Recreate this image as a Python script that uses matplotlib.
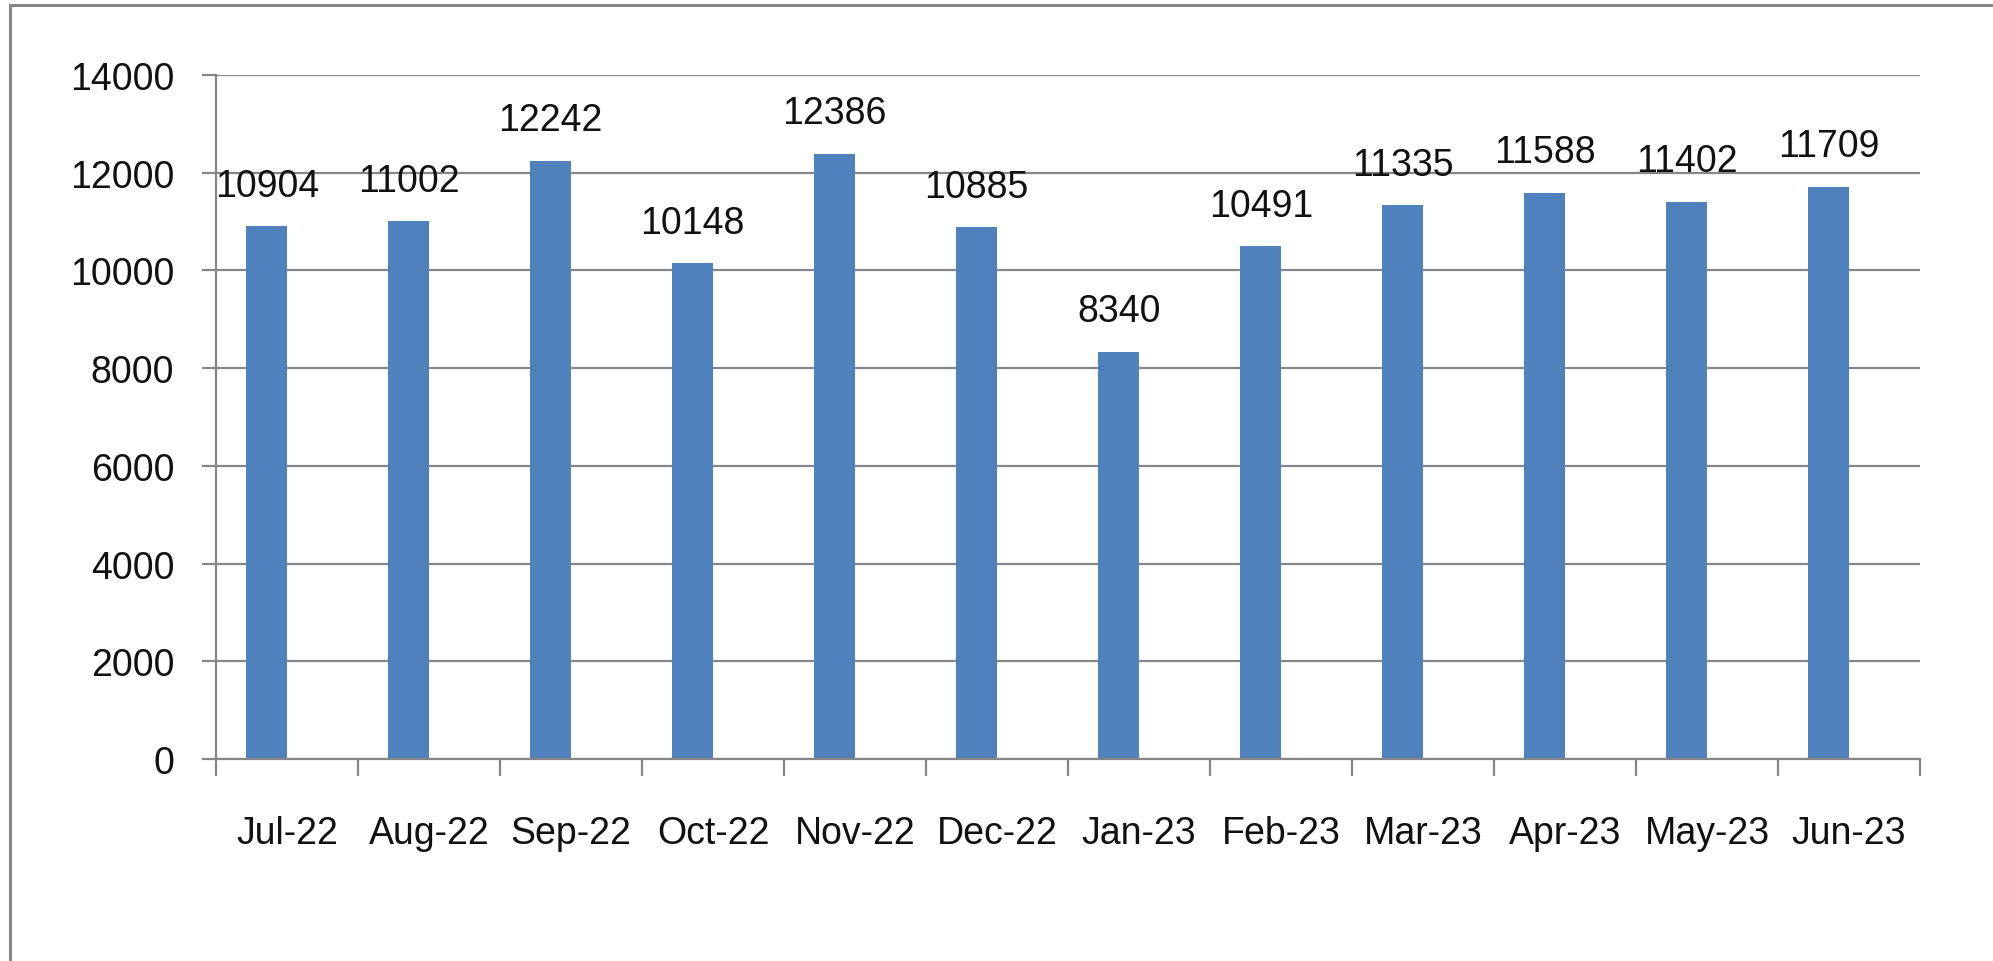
import matplotlib
matplotlib.use("Agg")
import matplotlib.pyplot as plt
from matplotlib.lines import Line2D
import numpy as np

months = ["Jul-22", "Aug-22", "Sep-22", "Oct-22", "Nov-22", "Dec-22",
          "Jan-23", "Feb-23", "Mar-23", "Apr-23", "May-23", "Jun-23"]
counts = [10904, 11002, 12242, 10148, 12386, 10885,
          8340, 10491, 11335, 11588, 11402, 11709]
y_ticks = [0, 2000, 4000, 6000, 8000, 10000, 12000, 14000]

plt.rcParams["font.family"] = ["Liberation Sans", "DejaVu Sans"]

grey = "#868686"
bar_colour = "#4f81bd"

fig = plt.figure(figsize=(19.93, 9.62), dpi=100)
ax = fig.add_axes([0.1084, 0.2100, 0.855, 0.711])

# outer chart frame (only left and top edges are visible)
fig.add_artist(Line2D([10 / 1993, 10 / 1993], [0, 1 - 6 / 962], color=grey, lw=2.2, transform=fig.transFigure))
fig.add_artist(Line2D([10 / 1993, 1], [1 - 6 / 962, 1 - 6 / 962], color=grey, lw=2.2, transform=fig.transFigure))

x = np.arange(len(months))
bar_w = 0.2857
bars = ax.bar(x - bar_w / 2, counts, width=bar_w, color=bar_colour, zorder=3)

for xi, v in zip(x - bar_w / 2, counts):
    ax.annotate(str(v), (xi, v), xytext=(0, 22), textcoords="offset points",
                ha="center", va="baseline", fontsize=27, color="#111111", zorder=4)

ax.set_xlim(-0.5, len(months) - 0.5)
ax.set_ylim(0, 14000)
ax.set_yticks(y_ticks)
ax.set_yticklabels([str(t) for t in y_ticks])
ax.yaxis.grid(True, color=grey, linewidth=1.6, zorder=0)

ax.set_xticks(x)
ax.set_xticklabels(months)
ax.set_xticks(np.arange(-0.5, len(months), 1.0), minor=True)
ax.tick_params(axis="x", which="major", length=0, pad=40, labelsize=27, labelcolor="#111111")
ax.tick_params(axis="x", which="minor", length=12, width=1.6, color=grey, direction="out")
ax.tick_params(axis="y", length=10, width=1.6, color=grey, pad=20, labelsize=27, labelcolor="#111111")

for side in ["top", "right"]:
    ax.spines[side].set_visible(False)
for side in ["left", "bottom"]:
    ax.spines[side].set_color(grey)
    ax.spines[side].set_linewidth(1.6)
ax.spines["bottom"].set_zorder(5)

fig.savefig("out.png", dpi=100)
